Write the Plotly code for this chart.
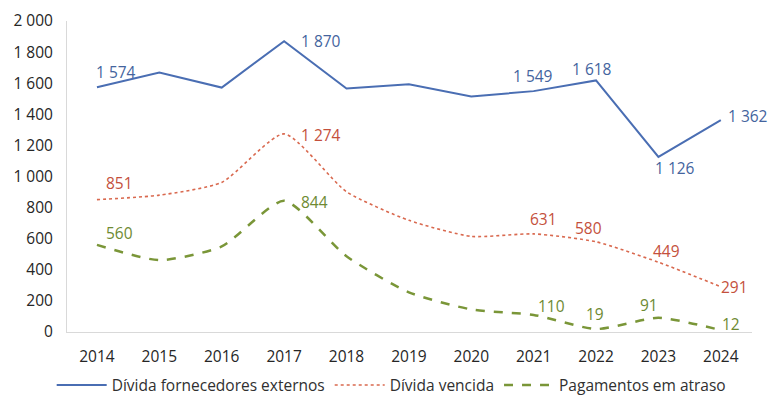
import plotly.graph_objects as go

years = [2014, 2015, 2016, 2017, 2018, 2019, 2020, 2021, 2022, 2023, 2024]
fornecedores = [1574, 1668, 1572, 1870, 1566, 1593, 1515, 1549, 1618, 1126, 1362]
vencida = [851, 880, 962, 1274, 902, 718, 615, 631, 580, 449, 291]
atraso = [560, 462, 550, 844, 487, 255, 145, 110, 19, 91, 12]

# which points carry a value label, with offsets (px) for each
lab_forn = {2014: (19, 15), 2017: (37, 0), 2021: (-1, 15), 2022: (-4, 11), 2023: (17, -11), 2024: (27, 4)}
lab_venc = {2014: (23, 17), 2017: (37, -1), 2021: (10, 15), 2022: (-8, 14), 2023: (8, 11), 2024: (14, 0)}
lab_atr = {2014: (23, 12), 2017: (30, -1), 2021: (18, 9), 2022: (-1, 15), 2023: (-9, 13), 2024: (10, 6)}

BLUE = "#4a6eb3"
RED = "#d9694f"
GREEN = "#7a9638"
BLUE_T = "#44649e"
RED_T = "#c4503c"
GREEN_T = "#6e8a32"
FONT = "Open Sans"


def fmt(v):
    return f"{v:,}".replace(",", " ")


fig = go.Figure()
fig.add_trace(go.Scatter(x=years, y=fornecedores, mode="lines", name="Dívida fornecedores externos",
                         line=dict(color=BLUE, width=2)))
fig.add_trace(go.Scatter(x=years, y=vencida, mode="lines", name="Dívida vencida",
                         line=dict(color=RED, width=1.6, dash="dot", shape="spline", smoothing=0.6)))
fig.add_trace(go.Scatter(x=years, y=atraso, mode="lines", name="Pagamentos em atraso",
                         line=dict(color=GREEN, width=2.5, dash="dash", shape="spline", smoothing=0.6)))

annotations = []
for series, labels, col in ((fornecedores, lab_forn, BLUE_T), (vencida, lab_venc, RED_T), (atraso, lab_atr, GREEN_T)):
    for yr, val in zip(years, series):
        if yr in labels:
            dx, dy = labels[yr]
            annotations.append(dict(x=yr, y=val, text=fmt(val), showarrow=False,
                                    xshift=dx, yshift=dy,
                                    font=dict(family=FONT, size=15.5, color=col)))

fig.update_layout(
    width=771, height=397,
    margin=dict(l=67, r=19, t=21, b=65, autoexpand=False),
    paper_bgcolor="white", plot_bgcolor="white",
    font=dict(family=FONT, size=15, color="#404040"),
    annotations=annotations,
    showlegend=True,
    legend=dict(orientation="h", x=0.474, xanchor="center", y=-0.172, yanchor="middle",
                font=dict(family=FONT, size=15.5, color="#303030"),
                itemwidth=50, tracegroupgap=0, bgcolor="rgba(0,0,0,0)"),
)
fig.update_xaxes(range=[2013.52, 2024.5], tickmode="array", tickvals=years,
                 ticktext=[str(y) for y in years], showgrid=False, zeroline=False,
                 showline=True, linecolor="#d9d9d9", linewidth=1, ticks="outside",
                 ticklen=10, tickcolor="rgba(0,0,0,0)",
                 tickfont=dict(family=FONT, size=15.5, color="#262626"))
fig.update_yaxes(range=[0, 2000], tickmode="array", tickvals=list(range(0, 2001, 200)),
                 ticktext=[fmt(v) for v in range(0, 2001, 200)], showgrid=False, zeroline=False,
                 showline=True, linecolor="#d9d9d9", linewidth=1, ticks="outside",
                 ticklen=10, tickcolor="rgba(0,0,0,0)",
                 tickfont=dict(family=FONT, size=15.5, color="#262626"))

fig.write_html("out.html")
